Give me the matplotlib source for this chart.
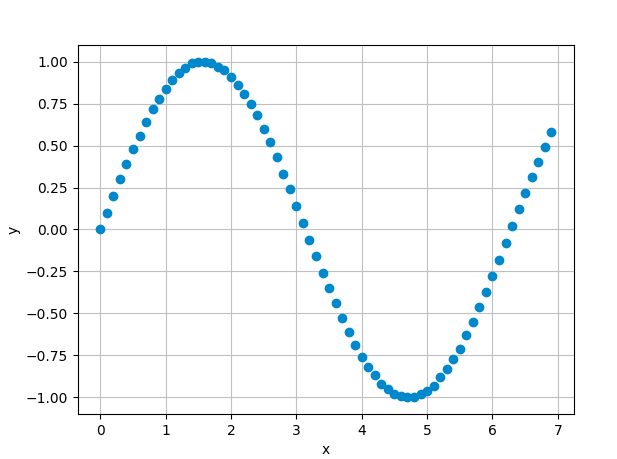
import matplotlib
matplotlib.use("Agg")
import matplotlib.pyplot as plt

x = [0.0, 0.1, 0.2, 0.3, 0.4, 0.5, 0.6, 0.7, 0.8, 0.9,
     1.0, 1.1, 1.2, 1.3, 1.4, 1.5, 1.6, 1.7, 1.8, 1.9,
     2.0, 2.1, 2.2, 2.3, 2.4, 2.5, 2.6, 2.7, 2.8, 2.9,
     3.0, 3.1, 3.2, 3.3, 3.4, 3.5, 3.6, 3.7, 3.8, 3.9,
     4.0, 4.1, 4.2, 4.3, 4.4, 4.5, 4.6, 4.7, 4.8, 4.9,
     5.0, 5.1, 5.2, 5.3, 5.4, 5.5, 5.6, 5.7, 5.8, 5.9,
     6.0, 6.1, 6.2, 6.3, 6.4, 6.5, 6.6, 6.7, 6.8, 6.9]
y = [0.00, 0.10, 0.20, 0.30, 0.39, 0.48, 0.56, 0.64, 0.72, 0.78,
     0.84, 0.89, 0.93, 0.96, 0.99, 1.00, 1.00, 0.99, 0.97, 0.95,
     0.91, 0.86, 0.81, 0.75, 0.68, 0.60, 0.52, 0.43, 0.33, 0.24,
     0.14, 0.04, -0.06, -0.16, -0.26, -0.35, -0.44, -0.53, -0.61, -0.69,
     -0.76, -0.82, -0.87, -0.92, -0.95, -0.98, -0.99, -1.00, -1.00, -0.98,
     -0.96, -0.93, -0.88, -0.83, -0.77, -0.71, -0.63, -0.55, -0.46, -0.37,
     -0.28, -0.18, -0.08, 0.02, 0.12, 0.22, 0.31, 0.40, 0.49, 0.58]

fig, ax = plt.subplots(figsize=(6.17, 4.59), dpi=100)
fig.subplots_adjust(left=0.126, right=0.93, top=0.902, bottom=0.098)
ax.plot(x, y, 'o', color='#0088cc')
ax.set_xlabel("x")
ax.set_ylabel("y")
ax.grid(True, color='#c0c0c0')
ax.set_axisbelow(True)
fig.savefig("out.png", dpi=100)
